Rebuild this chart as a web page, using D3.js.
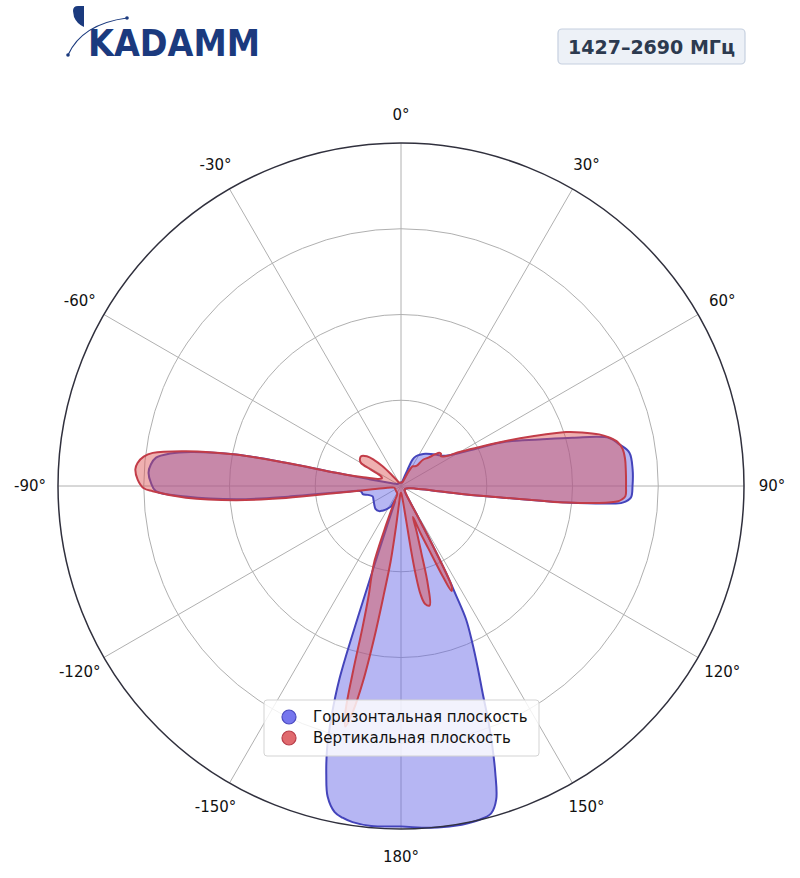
<!DOCTYPE html>
<html><head><meta charset="utf-8">
<script src="https://cdn.jsdelivr.net/npm/d3@7"></script>
<style>body{margin:0;background:#fff}svg{display:block}</style>
</head><body>
<svg id="chart" width="800" height="878"></svg>
<script>
// ---------- DATA ----------
const title = "1427–2690 МГц";
const logoText = "KADAMM";
const seriesNames = ["Горизонтальная плоскость", "Вертикальная плоскость"];
const tickAngles = [0, 30, 60, 90, 120, 150, 180, 210, 240, 270, 300, 330];
const tickLabels = ["0°", "30°", "60°", "90°", "120°", "150°", "180°", "-150°", "-120°", "-90°", "-60°", "-30°"];
const ringValues = [0.25, 0.5, 0.75, 1.0];

// Horizontal plane (blue)
const hAngles = [0,10,17,20,22,23.6,26.7,32.4,37,43,48,52,56,60,64,67,71.4,74.3,77,79.2,81.7,85.9,90,92.9,94.3,94.9,95.7,96.0,96.5,97.4,98.2,100,110,130,145,149,150.6,151.3,151.7,152.2,152.6,153.3,154,155.5,157,158.5,159.6,160.6,161.8,163.1,164.6,167,171,175,180,185,188.2,190,191.5,193.3,194.5,195.8,196.8,197.7,198.2,198.6,199.2,200,202,204,206,210,213,217,221,228,235,243,250,255,258,261,263,264,264.6,265.4,267.2,268.8,270.7,273,274.9,276.6,278,279.2,280.8,281.4,281.5,282,285,290,300,330];
const hValues = [0.01,0.01,0.015,0.03,0.05,0.084,0.097,0.109,0.118,0.128,0.137,0.145,0.158,0.19,0.255,0.33,0.425,0.52,0.623,0.648,0.673,0.677,0.675,0.671,0.648,0.6,0.484,0.42,0.3,0.192,0.092,0.04,0.02,0.015,0.02,0.03,0.06,0.11,0.164,0.23,0.285,0.36,0.433,0.5,0.57,0.65,0.73,0.8,0.88,0.955,0.99,1.0,1.003,1.0,0.993,0.995,0.99,0.982,0.97,0.93,0.87,0.79,0.7,0.59,0.39,0.24,0.13,0.07,0.045,0.05,0.066,0.075,0.082,0.09,0.097,0.1,0.095,0.09,0.088,0.1,0.114,0.116,0.12,0.15,0.33,0.48,0.628,0.715,0.729,0.737,0.732,0.719,0.68,0.62,0.49,0.34,0.19,0.1,0.04,0.02,0.012,0.01];

// Vertical plane (red)
const vAngles = [0,20,25,27,29,31,35,38,40,44,47,49,51,53,56,60,64,67,69.3,71.9,73.5,75.4,77,78.6,80.5,83,86,90,92.6,93.5,94,94.9,95.7,96.0,96.5,97.4,98.2,100,105,120,135,143,148,150.6,151.3,151.7,152.2,152.7,153.3,154.3,155.2,156,157.5,159,161,163,164.8,166.5,168.5,169.8,170.6,171.1,171.5,173,176,180,185,186,187,187.8,189,190,191,192,193,193.8,194.5,195.2,196.5,198,199.5,201,203,206,230,255,261,262.4,263.4,263.6,263.8,264.1,265.1,266.9,268.8,269.5,271.4,273.6,275,276.5,277.6,279.2,280.8,281.4,281.5,282,284,287,292,296,298.5,300,303,307,311,314,317,320,324,330,345];
const vValues = [0.01,0.012,0.02,0.045,0.06,0.067,0.07,0.075,0.1,0.115,0.135,0.148,0.15,0.145,0.155,0.2,0.265,0.34,0.41,0.506,0.55,0.597,0.625,0.645,0.655,0.658,0.657,0.656,0.655,0.645,0.635,0.58,0.484,0.42,0.3,0.192,0.092,0.04,0.025,0.015,0.015,0.02,0.03,0.06,0.11,0.164,0.23,0.3,0.33,0.34,0.29,0.22,0.15,0.097,0.14,0.2,0.3,0.358,0.35,0.32,0.26,0.19,0.1,0.04,0.025,0.02,0.025,0.04,0.12,0.22,0.32,0.45,0.58,0.67,0.72,0.68,0.56,0.43,0.33,0.28,0.23,0.12,0.05,0.025,0.02,0.02,0.03,0.04,0.09,0.137,0.19,0.337,0.483,0.628,0.724,0.75,0.768,0.776,0.771,0.755,0.73,0.635,0.49,0.342,0.193,0.14,0.1,0.07,0.06,0.065,0.1,0.135,0.143,0.145,0.132,0.11,0.08,0.045,0.02,0.012,0.01];

// ---------- DRAW ----------
const svg = d3.select("#chart");
const cx = 401, cy = 486, R = 343;
const rScale = d3.scaleLinear().domain([0, 1]).range([0, R]);
const rad = d => d * Math.PI / 180;

// Logo
const logo = svg.append("g");
const navy = "#1b3a7e";
logo.append("path").attr("d", "M73,11 Q73,6 78,6 L84,6 L84,27 Q77,24 74,17 Z").attr("fill", navy);
logo.append("path").attr("d", "M68,55 Q82,24 127,18").attr("fill", "none").attr("stroke", navy).attr("stroke-width", 1.2);
logo.append("circle").attr("cx", 68).attr("cy", 55).attr("r", 1.8).attr("fill", navy);
logo.append("circle").attr("cx", 127).attr("cy", 18).attr("r", 1.8).attr("fill", navy);
logo.append("text").attr("x", 88).attr("y", 56).text(logoText)
  .attr("font-family", "DejaVu Sans").attr("font-weight", "bold").attr("font-size", 37)
  .attr("textLength", 172).attr("lengthAdjust", "spacingAndGlyphs").attr("fill", navy);

// Title box
svg.append("rect").attr("x", 558).attr("y", 29).attr("width", 187).attr("height", 35).attr("rx", 4)
  .attr("fill", "#edf1f7").attr("stroke", "#c6d0df").attr("stroke-width", 1.2);
svg.append("text").attr("x", 651.5).attr("y", 47).attr("text-anchor", "middle").attr("dominant-baseline", "central")
  .attr("font-family", "DejaVu Sans").attr("font-weight", "bold").attr("font-size", 19).attr("fill", "#2c3a4f").text(title);

const g = svg.append("g").attr("transform", `translate(${cx},${cy})`);

// grid rings
g.selectAll("circle.ring").data(ringValues.slice(0, -1)).join("circle").attr("class", "ring")
  .attr("r", d => rScale(d)).attr("fill", "none").attr("stroke", "#b0b0b0").attr("stroke-width", 1);
// spokes
g.selectAll("line.spoke").data(tickAngles).join("line").attr("class", "spoke")
  .attr("x1", 0).attr("y1", 0)
  .attr("x2", d => rScale(1) * Math.sin(rad(d))).attr("y2", d => -rScale(1) * Math.cos(rad(d)))
  .attr("stroke", "#b0b0b0").attr("stroke-width", 1);

// series
const lineGen = d3.lineRadial().angle(d => rad(d[0])).radius(d => rScale(d[1]))
  .curve(d3.curveCatmullRomClosed.alpha(0.5));
const hData = hAngles.map((a, i) => [a, hValues[i]]);
const vData = vAngles.map((a, i) => [a, vValues[i]]);
g.append("path").attr("d", lineGen(hData)).attr("fill", "#6464e6").attr("fill-opacity", 0.47)
  .attr("stroke", "#4444bb").attr("stroke-width", 2).attr("stroke-linejoin", "round");
g.append("path").attr("d", lineGen(vData)).attr("fill", "#dc5050").attr("fill-opacity", 0.45)
  .attr("stroke", "#c23c48").attr("stroke-width", 2).attr("stroke-linejoin", "round");

// outer circle
g.append("circle").attr("r", rScale(1)).attr("fill", "none").attr("stroke", "#30303d").attr("stroke-width", 1.5);

// angle labels
g.selectAll("text.tick").data(tickAngles).join("text").attr("class", "tick")
  .attr("x", d => 371 * Math.sin(rad(d))).attr("y", d => -371 * Math.cos(rad(d)))
  .attr("text-anchor", "middle").attr("dominant-baseline", "central")
  .attr("font-family", "DejaVu Sans").attr("font-size", 15).attr("fill", "#111")
  .text((d, i) => tickLabels[i]);

// legend
const lg = svg.append("g");
lg.append("rect").attr("x", 264).attr("y", 700).attr("width", 275).attr("height", 56).attr("rx", 3)
  .attr("fill", "#fff").attr("fill-opacity", 0.82).attr("stroke", "#d3d3d3");
const legendFill = ["#7676ee", "#e06a6e"], legendStroke = ["#4a4abf", "#b83e4a"];
seriesNames.forEach((name, i) => {
  const y = 717 + i * 21;
  lg.append("circle").attr("cx", 289).attr("cy", y).attr("r", 7).attr("fill", legendFill[i]).attr("stroke", legendStroke[i]).attr("stroke-width", 1.2);
  lg.append("text").attr("x", 313).attr("y", y).attr("dominant-baseline", "central")
    .attr("font-family", "DejaVu Sans").attr("font-size", 15).attr("fill", "#111").text(name);
});
</script>
</body></html>
